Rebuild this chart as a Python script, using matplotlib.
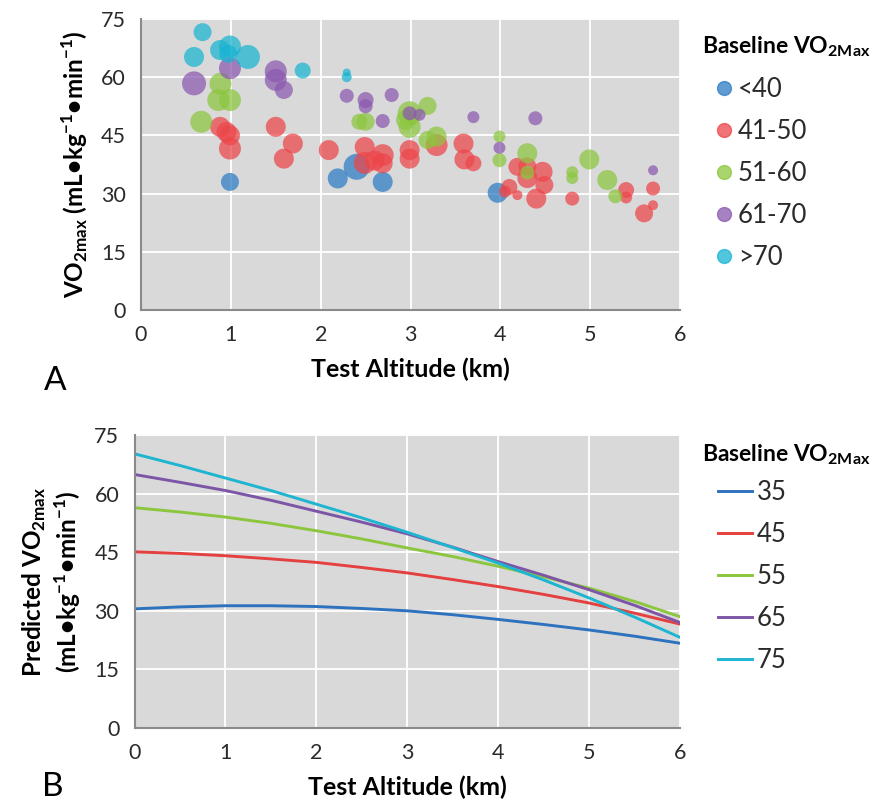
import matplotlib
matplotlib.use('Agg')
import matplotlib.pyplot as plt
from matplotlib.lines import Line2D

plt.rcParams['font.family'] = ['Lato', 'DejaVu Sans']
plt.rcParams['mathtext.fontset'] = 'custom'
plt.rcParams['mathtext.rm'] = 'Lato'
plt.rcParams['mathtext.bf'] = 'Lato:bold'

# ---- panel A data: test altitude (km), VO2max, bubble size ----
blue_alt = [0.99, 2.19, 2.40, 2.69, 3.97]
blue_vo2 = [33.0, 33.9, 36.9, 33.0, 30.2]
blue_n = [9, 10, 13, 10, 10]

red_alt = [0.88, 0.95, 0.99, 0.99, 1.50, 1.69, 1.59, 2.09, 2.49, 2.49, 2.60, 2.69, 2.69,
           2.99, 2.99, 3.29, 3.59, 3.60, 3.70, 4.10, 4.19, 4.19, 4.30, 4.30, 4.40, 4.47,
           4.49, 4.80, 5.40, 5.40, 5.70, 5.70, 5.60, 4.05]
red_vo2 = [47.2, 45.9, 45.0, 41.6, 47.2, 42.9, 39.0, 41.2, 42.0, 37.9, 38.5, 39.9, 37.8,
           41.2, 39.0, 42.5, 42.9, 38.8, 37.8, 31.7, 29.6, 36.9, 34.0, 37.0, 28.7, 35.6,
           32.2, 28.7, 30.9, 29.0, 31.3, 27.0, 24.9, 30.5]
red_n = [10, 10, 10, 11, 10, 10, 10, 10, 10, 11, 10, 11, 10,
         10, 10, 11, 10, 10, 8, 8, 5, 9, 10, 9, 10, 10,
         9, 7, 8, 6, 7, 5, 9, 6]

green_alt = [0.885, 0.86, 0.99, 0.67, 2.43, 2.50, 2.99, 2.99, 3.19, 3.29, 3.19, 3.99, 3.99,
             4.30, 4.30, 4.80, 4.80, 4.99, 5.19, 5.28, 2.95]
green_vo2 = [58.3, 54.1, 54.1, 48.5, 48.5, 48.5, 50.7, 47.2, 52.6, 44.7, 43.8, 44.7, 38.6,
             40.4, 35.4, 35.5, 34.0, 38.8, 33.5, 29.3, 49.0]
green_n = [11, 11, 11, 11, 8, 9, 12, 11, 9, 10, 9, 6, 7,
           10, 7, 6, 6, 10, 10, 7, 10]

purple_alt = [0.59, 0.99, 1.50, 1.50, 1.59, 2.29, 2.50, 2.50, 2.79, 2.69, 2.99, 3.10,
              3.70, 4.39, 3.99, 5.70]
purple_vo2 = [58.4, 62.3, 61.5, 59.3, 56.7, 55.2, 54.1, 52.5, 55.4, 48.7, 50.7, 50.3,
              49.7, 49.4, 41.8, 36.0]
purple_n = [12, 11, 11, 11, 9, 7, 8, 7, 7, 7, 7, 6, 6, 7, 6, 5]

cyan_alt = [0.685, 0.59, 0.88, 0.99, 0.97, 1.19, 1.80, 2.29, 2.29]
cyan_vo2 = [71.6, 65.2, 67.0, 67.9, 66.0, 65.2, 61.7, 61.2, 60.0]
cyan_n = [9, 10, 10, 11, 9, 12, 8, 4, 5]

groups = ['<40', '41-50', '51-60', '61-70', '>70']

# ---- panel B data: predicted VO2max by baseline ----
alt_b = [0, 0.5, 1, 1.5, 2, 2.5, 3, 3.5, 4, 4.5, 5, 5.5, 6]
pred_35 = [30.5, 31.0, 31.3, 31.3, 31.1, 30.6, 30.0, 29.0, 27.8, 26.5, 25.1, 23.5, 21.7]
pred_45 = [45.1, 44.7, 44.1, 43.3, 42.4, 41.1, 39.7, 38.0, 36.2, 34.2, 32.0, 29.4, 26.6]
pred_55 = [56.4, 55.3, 54.0, 52.4, 50.5, 48.4, 46.1, 43.9, 41.4, 38.7, 35.8, 32.4, 28.5]
pred_65 = [64.9, 62.9, 60.8, 58.3, 55.5, 52.7, 49.7, 46.3, 42.6, 39.1, 35.4, 31.4, 27.0]
pred_75 = [70.2, 67.2, 64.0, 60.8, 57.3, 53.8, 50.1, 46.2, 42.2, 37.9, 33.3, 28.4, 23.2]
baselines = ['35', '45', '55', '65', '75']

dot_colors = ['#2B7BC4', '#EC4549', '#8CC63E', '#8A58AE', '#18B4D2']
line_colors = ['#2D72BE', '#E4403F', '#8CC63E', '#7D55A6', '#1DB5D0']

legend_title = r'Baseline VO$_{\mathbf{2Max}}$'

fig = plt.figure(figsize=(8.77, 8.07), dpi=100)
ax1 = fig.add_axes([0.1608, 0.6159, 0.6146, 0.3606])
ax2 = fig.add_axes([0.1534, 0.0979, 0.622, 0.363])


def style_axes(ax):
    ax.set_facecolor('#D9D9D9')
    ax.set_xlim(0, 6)
    ax.set_ylim(0, 75)
    ax.set_xticks(range(7))
    ax.set_yticks(range(0, 76, 15))
    ax.grid(True, color='white', linewidth=1.3)
    ax.set_axisbelow(True)
    for s in ['top', 'right']:
        ax.spines[s].set_visible(False)
    for s in ['left', 'bottom']:
        ax.spines[s].set_color('#8A8A8A')
        ax.spines[s].set_linewidth(1.5)
    ax.tick_params(length=0, labelsize=15.5, pad=11, colors='#2A2A2A')
    ax.set_xlabel('Test Altitude (km)', fontsize=18, fontweight='bold', labelpad=9)


style_axes(ax1)
style_axes(ax2)

# panel A bubbles
data_a = [(blue_alt, blue_vo2, blue_n), (red_alt, red_vo2, red_n),
          (green_alt, green_vo2, green_n), (purple_alt, purple_vo2, purple_n),
          (cyan_alt, cyan_vo2, cyan_n)]
for (xs, ys, ns), c, lab in zip(data_a, dot_colors, groups):
    ax1.scatter(xs, ys, s=[(1.44 * n) ** 2 for n in ns], color=c, alpha=0.72,
                edgecolors='none', label=lab)

ax1.set_ylabel(r'VO$_{\mathbf{2max}}$ (mL•kg$^{\mathbf{-1}}$•min$^{\mathbf{-1}}$)',
               fontsize=17.5, fontweight='bold', labelpad=8)

handles_a = [Line2D([], [], marker='o', linestyle='none', markersize=10, color=c,
                    alpha=0.75) for c in dot_colors]
ax1.legend(handles_a, groups, loc='center left', bbox_to_anchor=(0.8107, 0.785),
           bbox_transform=fig.transFigure, frameon=False, fontsize=18.5,
           labelspacing=0.66, handlelength=1.05, handletextpad=0.0,
           borderpad=0, borderaxespad=0, labelcolor='#2A2A2A')
fig.text(0.800, 0.9418, legend_title, fontsize=16.5, fontweight='bold',
         ha='left', va='center')

# panel B lines
for ys, c, lab in zip([pred_35, pred_45, pred_55, pred_65, pred_75], line_colors, baselines):
    ax2.plot(alt_b, ys, color=c, linewidth=2.1, label=lab)

ax2.set_ylabel('Predicted VO$_{\\mathbf{2max}}$\n(mL•kg$^{\\mathbf{-1}}$•min$^{\\mathbf{-1}}$)',
               fontsize=17.5, fontweight='bold', labelpad=8)

ax2.legend(loc='center left', bbox_to_anchor=(0.8187, 0.2856),
           bbox_transform=fig.transFigure, frameon=False, fontsize=18.5,
           labelspacing=0.66, handlelength=1.32, handletextpad=0.2,
           borderpad=0, borderaxespad=0, labelcolor='#2A2A2A')
fig.text(0.800, 0.4362, legend_title, fontsize=16.5, fontweight='bold',
         ha='left', va='center')

fig.text(0.05, 0.528, 'A', fontsize=24, ha='left', va='center')
fig.text(0.048, 0.025, 'B', fontsize=24, ha='left', va='center')

fig.savefig('out.png', dpi=100)
